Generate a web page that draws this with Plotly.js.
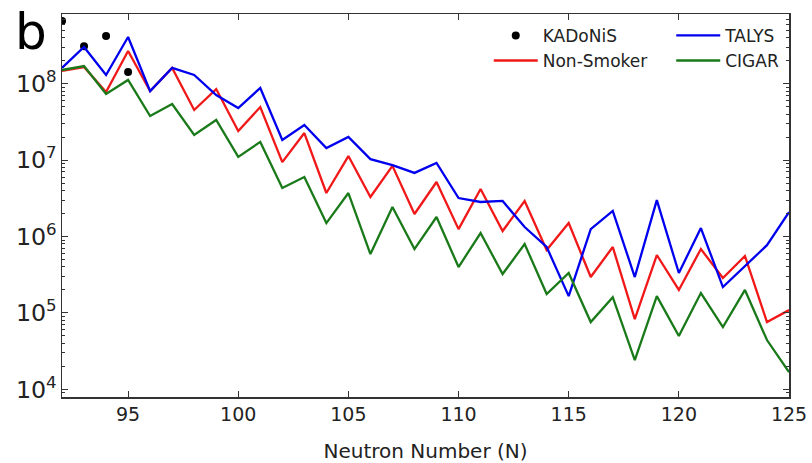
<!DOCTYPE html>
<html>
<head>
<meta charset="utf-8">
<script src="https://cdn.plot.ly/plotly-3.0.1.min.js"></script>
<style>html,body{margin:0;padding:0;background:#fff;}#chart{width:812px;height:463px;}</style>
</head>
<body>
<div id="chart"></div>
<script>
const neutronNumbers = [92,93,94,95,96,97,98,99,100,101,102,103,104,105,106,107,108,109,110,111,112,113,114,115,116,117,118,119,120,121,122,123,124,125];

const kadonisN = [92,93,94,95];
const kadonis = [6.6e8, 3.1e8, 4.2e8, 1.42e8];

const talys = [1.61e8,3.02e8,1.30e8,4.08e8,8.0e7,1.61e8,1.30e8,7.1e7,4.8e7,8.8e7,
  1.83e7,2.88e7,1.44e7,2.01e7,1.03e7,8.6e6,6.8e6,9.2e6,3.19e6,2.83e6,
  2.92e6,1.33e6,7.3e5,1.66e5,1.25e6,2.16e6,2.95e5,3.0e6,3.33e5,1.29e6,
  2.18e5,4.11e5,7.7e5,2.09e6];

const nonSmoker = [1.47e8,1.65e8,7.8e7,2.68e8,8.0e7,1.61e8,4.53e7,8.5e7,2.40e7,4.95e7,
  9.4e6,2.26e7,3.71e6,1.13e7,3.29e6,8.4e6,1.97e6,5.17e6,1.25e6,4.19e6,
  1.18e6,2.92e6,6.66e5,1.50e6,2.95e5,7.29e5,8.3e4,5.73e5,2.0e5,6.86e5,
  2.86e5,5.56e5,7.6e4,1.09e5];

const cigar = [1.51e8,1.70e8,7.33e7,1.12e8,3.78e7,5.42e7,2.13e7,3.35e7,1.10e7,1.73e7,
  4.31e6,6.01e6,1.50e6,3.71e6,5.9e5,2.43e6,6.86e5,1.80e6,3.99e5,1.11e6,
  3.23e5,7.98e5,1.77e5,3.33e5,7.6e4,1.61e5,2.42e4,1.66e5,4.99e4,1.82e5,
  6.53e4,2.0e5,4.42e4,1.68e4];

const xTicks = [95,100,105,110,115,120,125];

const FONT = 'DejaVu Sans, sans-serif';

const traces = [
  {x: kadonisN, y: kadonis, name: 'KADoNiS', type: 'scatter', mode: 'markers',
   marker: {color: '#000', size: 8}, legend: 'legend'},
  {x: neutronNumbers, y: nonSmoker, name: 'Non-Smoker', type: 'scatter', mode: 'lines',
   line: {color: '#f01818', width: 2.3}, legend: 'legend'},
  {x: neutronNumbers, y: talys, name: 'TALYS', type: 'scatter', mode: 'lines',
   line: {color: '#0000ee', width: 2.3}, legend: 'legend2'},
  {x: neutronNumbers, y: cigar, name: 'CIGAR', type: 'scatter', mode: 'lines',
   line: {color: '#1a7a1a', width: 2.3}, legend: 'legend2'}
];

const axisCommon = {
  showline: true, linecolor: '#333', linewidth: 1.5, mirror: 'ticks',
  ticks: 'inside', ticklen: 6, tickwidth: 1, tickcolor: '#333',
  showgrid: false, zeroline: false,
  tickfont: {family: FONT, size: 19, color: '#222'}
};

const legendCommon = {xanchor: 'left', yanchor: 'top', bgcolor: 'rgba(0,0,0,0)',
  font: {family: FONT, size: 17, color: '#222'}, tracegroupgap: 0, itemwidth: 44};

const layout = {
  width: 812, height: 463,
  margin: {l: 62, r: 23, t: 14, b: 66},
  paper_bgcolor: '#fff', plot_bgcolor: '#fff',
  font: {family: FONT, color: '#222'},
  xaxis: Object.assign({}, axisCommon, {
    range: [92, 125], tickvals: xTicks, ticktext: xTicks.map(String),
    title: {text: 'Neutron Number (N)', font: {family: FONT, size: 20, color: '#222'}, standoff: 23}
  }),
  yaxis: Object.assign({}, axisCommon, {
    type: 'log', range: [3.9, 8.912], dtick: 1, exponentformat: 'power',
    minor: {ticks: 'inside', ticklen: 3, tickcolor: '#333', dtick: 'D1', showgrid: false}
  }),
  legend: Object.assign({}, legendCommon, {x: 0.587, y: 0.99}),
  legend2: Object.assign({}, legendCommon, {x: 0.838, y: 0.99}),
  showlegend: true,
  annotations: [{
    text: 'b', xref: 'paper', yref: 'paper', x: -0.068, y: 1.0, xanchor: 'left', yanchor: 'middle',
    yshift: -18, showarrow: false, font: {family: FONT, size: 50, color: '#000'}
  }]
};

Plotly.newPlot('chart', traces, layout, {staticPlot: true, displayModeBar: false});
</script>
</body>
</html>
